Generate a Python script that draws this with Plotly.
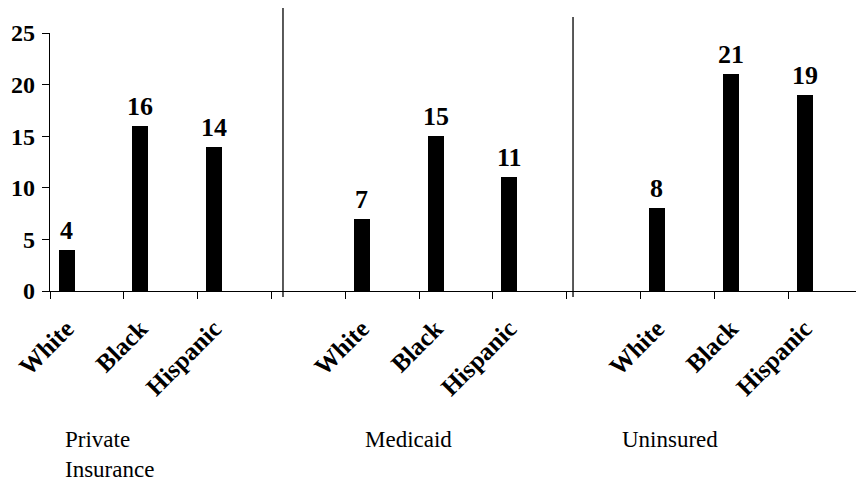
import plotly.graph_objects as go

# Percentages by coverage type and race/ethnicity
coverage = ["Private<br>Insurance", "Medicaid", "Uninsured"]
races = ["White", "Black", "Hispanic"]
private_ins = [4, 16, 14]
medicaid = [7, 15, 11]
uninsured = [8, 21, 19]
series = [private_ins, medicaid, uninsured]
y_ticks = [0, 5, 10, 15, 20, 25]

SLOT_OFFSET = 0.224   # bar center offset inside its category slot
BAR_WIDTH = 0.217
SERIF = "Liberation Serif"

xs, ys, labels = [], [], []
for g, vals in enumerate(series):
    for r, v in enumerate(vals):
        xs.append(4 * g + r + SLOT_OFFSET)
        ys.append(v)
        labels.append(races[r])

fig = go.Figure()
fig.add_trace(go.Bar(
    x=xs, y=ys, width=BAR_WIDTH,
    marker=dict(color="black", line=dict(width=0)),
    hoverinfo="skip", showlegend=False,
))

# value labels above bars
for x, v in zip(xs, ys):
    fig.add_annotation(
        x=x, y=v, text="<b>%d</b>" % v, showarrow=False,
        xanchor="center", yanchor="bottom", yshift=3,
        font=dict(family=SERIF, size=26, color="black"),
    )

# group captions under the axis
caption_x = [0.176, 4.24, 7.72]
for cx, name in zip(caption_x, coverage):
    fig.add_annotation(
        x=cx, y=-0.52, xref="x", yref="paper", text=name,
        showarrow=False, xanchor="left", yanchor="top", align="left",
        font=dict(family=SERIF, size=23, color="black"),
    )

# vertical separators between coverage groups
for dx, top in [(3.157, 1.097), (7.087, 1.062)]:
    fig.add_shape(
        type="line", xref="x", yref="paper",
        x0=dx, x1=dx, y0=-0.023, y1=top,
        line=dict(color="black", width=1.3),
    )

fig.update_layout(
    width=856, height=481,
    margin=dict(l=50, r=0, t=33, b=190),
    plot_bgcolor="white", paper_bgcolor="white",
    font=dict(family=SERIF),
    bargap=0,
)
fig.update_xaxes(
    range=[0, 806 / 73.8],
    tickmode="array", tickvals=xs, ticktext=["<b>%s</b>" % t for t in labels],
    ticks="", tickangle=-45, ticklabelstandoff=12,
    tickfont=dict(family=SERIF, size=25, color="black"),
    showline=True, linecolor="black", linewidth=1.3,
    showgrid=False, zeroline=False,
    minor=dict(tickmode="array", tickvals=list(range(0, 12)),
               ticks="outside", ticklen=7, tickcolor="black", tickwidth=1.3,
               showgrid=False),
)
fig.update_yaxes(
    range=[0, 25], tickmode="array", tickvals=y_ticks,
    ticktext=["<b>%d</b>" % t for t in y_ticks],
    ticks="outside", ticklen=7, tickcolor="black", tickwidth=1.3,
    ticklabelstandoff=2,
    tickfont=dict(family=SERIF, size=24, color="black"),
    showline=True, linecolor="black", linewidth=1.3,
    showgrid=False, zeroline=False,
)

fig.write_html("out.html")
